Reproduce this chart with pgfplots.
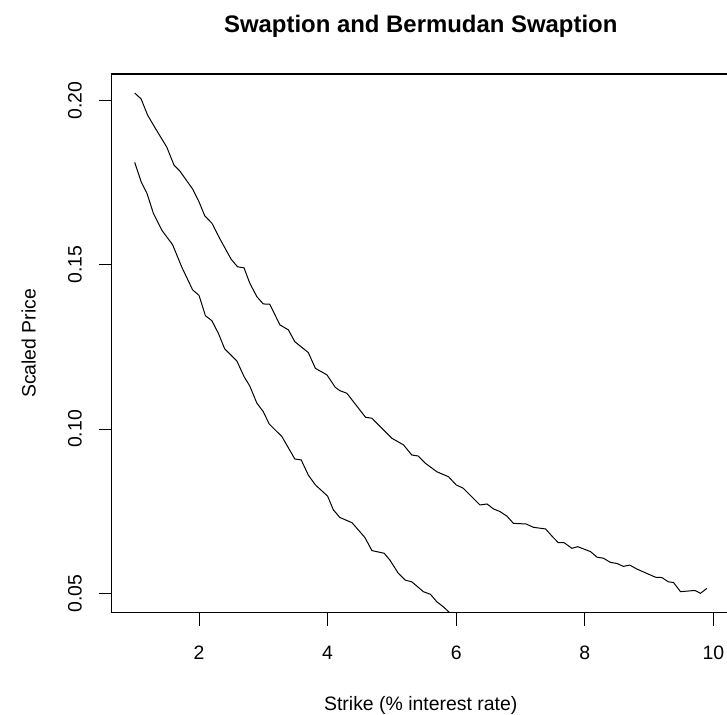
\documentclass[border=0pt]{standalone}
\usepackage{fontspec}
\setmainfont{Liberation Sans}
\usepackage{pgfplots}
\pgfplotsset{compat=1.18}

\begin{document}
\begin{tikzpicture}
\begin{axis}[
    at={(0,0)}, anchor=south west,
    scale only axis,
    width=618.1bp, height=538.7bp,
    xmin=0.642, xmax=10.256,
    ymin=0.0441, ymax=0.2081,
    axis line style={black, line width=1.1bp},
    tick pos=left,
    tick align=outside,
    major tick length=13bp,
    tick style={black, line width=1bp},
    xtick={2,4,6,8,10},
    xticklabels={2,4,6,8,10},
    ytick={0.05,0.10,0.15,0.20},
    yticklabels={0.05,0.10,0.15,0.20},
    tick label style={font=\fontsize{19.5}{23}\selectfont},
    xticklabel style={anchor=base, inner sep=0pt, yshift=-34bp},
    yticklabel style={rotate=90, anchor=base, inner sep=0pt, yshift=17bp},
    title={\bfseries Swaption and Bermudan Swaption},
    title style={font=\fontsize{24}{28}\selectfont, at={(axis description cs:0.5,1)}, anchor=base, yshift=36bp, inner sep=0pt},
    xlabel={Strike (\% interest rate)},
    xlabel style={font=\fontsize{19.5}{23}\selectfont, at={(axis description cs:0.5,0)}, anchor=base, yshift=-97.5bp, inner sep=0pt},
    ylabel={Scaled Price},
    ylabel style={font=\fontsize{19.5}{23}\selectfont, at={(axis description cs:0,0.5)}, anchor=base, yshift=76bp, inner sep=0pt},
]
\addplot[black, line width=1bp] coordinates {
    (1.0,0.2023) (1.1,0.2005) (1.2,0.1956) (1.32,0.1916) (1.5,0.1858) (1.61,0.1804)
    (1.7,0.1786) (1.9,0.1731) (2.0,0.1692) (2.09,0.1649) (2.2,0.1627) (2.32,0.1581)
    (2.5,0.1517) (2.6,0.1494) (2.7,0.1491) (2.79,0.1444) (2.9,0.1403) (3.0,0.1381)
    (3.1,0.1380) (3.26,0.1317) (3.39,0.1302) (3.49,0.1266) (3.7,0.1233) (3.81,0.1185)
    (3.99,0.1165) (4.12,0.1127) (4.19,0.1117) (4.3,0.1109) (4.59,0.1036) (4.69,0.1033)
    (5.0,0.0972) (5.18,0.0952) (5.31,0.0921) (5.41,0.0918) (5.52,0.0896) (5.7,0.0870)
    (5.88,0.0855) (6.0,0.0830) (6.11,0.0820) (6.37,0.0769) (6.48,0.0772) (6.58,0.0757)
    (6.68,0.0749) (6.79,0.0735) (6.89,0.0713) (7.09,0.0711) (7.2,0.0701) (7.39,0.0696)
    (7.5,0.0672) (7.59,0.0654) (7.68,0.0654) (7.8,0.0637) (7.89,0.0642) (8.09,0.0627)
    (8.19,0.0610) (8.29,0.0607) (8.4,0.0594) (8.5,0.0591) (8.6,0.0582) (8.7,0.0586)
    (8.81,0.0574) (9.1,0.0549) (9.2,0.0548) (9.3,0.0535) (9.38,0.0533) (9.49,0.0505)
    (9.67,0.0508) (9.72,0.0508) (9.8,0.0500) (9.9,0.0515)
};
\addplot[black, line width=1bp] coordinates {
    (1.0,0.1812) (1.1,0.1753) (1.19,0.1718) (1.29,0.1657) (1.42,0.1606) (1.59,0.1561)
    (1.73,0.1494) (1.9,0.1424) (2.0,0.1407) (2.1,0.1345) (2.2,0.1330) (2.3,0.1292)
    (2.4,0.1244) (2.59,0.1207) (2.7,0.1160) (2.79,0.1131) (2.9,0.1079) (3.0,0.1053)
    (3.09,0.1016) (3.29,0.0977) (3.49,0.0909) (3.59,0.0906) (3.7,0.0860) (3.81,0.0830)
    (4.0,0.0796) (4.09,0.0754) (4.19,0.0731) (4.38,0.0715) (4.58,0.0670) (4.69,0.0630)
    (4.88,0.0622) (4.97,0.0601) (5.1,0.0561) (5.21,0.0540) (5.31,0.0535) (5.49,0.0505)
    (5.6,0.0497) (5.7,0.0474) (5.8,0.0459) (5.91,0.0439) (6.0,0.0425)
};
\end{axis}
\pgfresetboundingbox
\path[use as bounding box] (-111.7bp,-102.3bp) rectangle (615.3bp,612.7bp);
\end{tikzpicture}
\end{document}
